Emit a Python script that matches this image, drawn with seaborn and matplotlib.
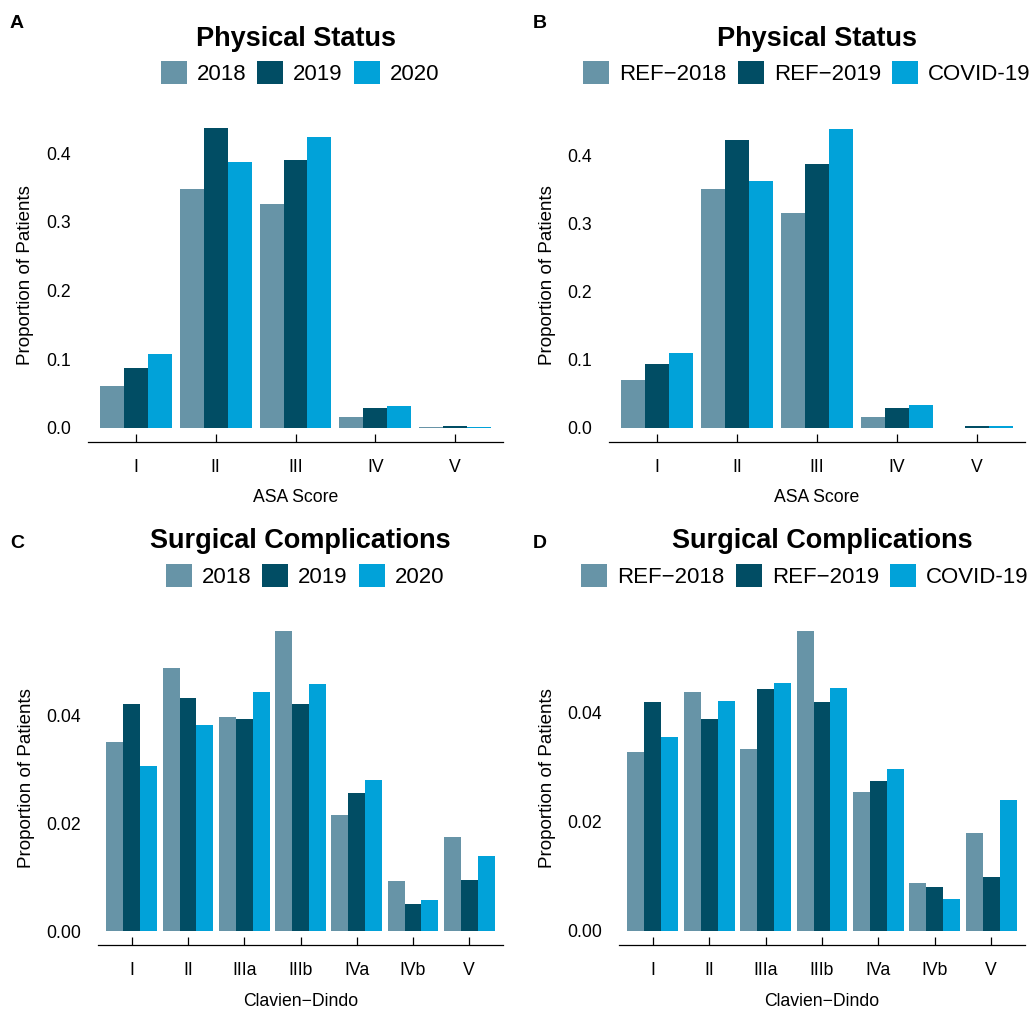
import numpy as np
import pandas as pd
import matplotlib
matplotlib.use("Agg")
import matplotlib.pyplot as plt
from matplotlib.ticker import FormatStrFormatter
import seaborn as sns

# categories and groups
asa_levels = ["I", "II", "III", "IV", "V"]
cd_levels = ["I", "II", "IIIa", "IIIb", "IVa", "IVb", "V"]
years = ["2018", "2019", "2020"]
periods = ["REF\u22122018", "REF\u22122019", "COVID-19"]
colors = ["#6794a7", "#014d64", "#01a2d9"]

# A: ASA score by calendar year
asa_year_2018 = [0.060, 0.348, 0.326, 0.016, 0.0005]
asa_year_2019 = [0.087, 0.437, 0.390, 0.029, 0.0025]
asa_year_2020 = [0.107, 0.387, 0.424, 0.032, 0.001]

# B: ASA score by reference period
asa_ref_2018 = [0.070, 0.351, 0.315, 0.016, 0.0]
asa_ref_2019 = [0.093, 0.423, 0.387, 0.029, 0.0025]
asa_covid = [0.110, 0.363, 0.439, 0.033, 0.0025]

# C: Clavien-Dindo by calendar year
cd_year_2018 = [0.0351, 0.0489, 0.0398, 0.0557, 0.0215, 0.0093, 0.0175]
cd_year_2019 = [0.0422, 0.0433, 0.0394, 0.0422, 0.0256, 0.0050, 0.0095]
cd_year_2020 = [0.0306, 0.0383, 0.0444, 0.0459, 0.0280, 0.0058, 0.0139]

# D: Clavien-Dindo by reference period
cd_ref_2018 = [0.0327, 0.0437, 0.0333, 0.0549, 0.0254, 0.0088, 0.0179]
cd_ref_2019 = [0.0419, 0.0388, 0.0443, 0.0419, 0.0274, 0.0080, 0.0099]
cd_covid = [0.0355, 0.0421, 0.0454, 0.0445, 0.0296, 0.0059, 0.0240]

sns.set_theme(style="white")
plt.rcParams["font.family"] = ["Liberation Sans", "DejaVu Sans"]
plt.rcParams["text.color"] = "black"
plt.rcParams["axes.labelcolor"] = "black"
plt.rcParams["xtick.color"] = "black"
plt.rcParams["ytick.color"] = "black"

W, H = 1030, 1011
fig = plt.figure(figsize=(W / 100, H / 100), dpi=100)


def long_df(levels, groups, series):
    rows = []
    for g, vals in zip(groups, series):
        for lev, v in zip(levels, vals):
            rows.append({"level": lev, "group": g, "value": v})
    return pd.DataFrame(rows)


panels = [
    dict(letter="A", box=(88, 108, 503, 442), levels=asa_levels, groups=years,
         series=[asa_year_2018, asa_year_2019, asa_year_2020],
         ylim=(-0.021, 0.466), yticks=[0, 0.1, 0.2, 0.3, 0.4], fmt="%.1f",
         title="Physical Status", xlabel="ASA Score", letter_xy=(10, 23),
         title_y=39, legend_xy=(300, 73), ylab_x=25, xlab_y=497),
    dict(letter="B", box=(609, 108, 1025, 442), levels=asa_levels, groups=periods,
         series=[asa_ref_2018, asa_ref_2019, asa_covid],
         ylim=(-0.021, 0.470), yticks=[0, 0.1, 0.2, 0.3, 0.4], fmt="%.1f",
         title="Physical Status", xlabel="ASA Score", letter_xy=(533, 23),
         title_y=39, legend_xy=(807, 73), ylab_x=548, xlab_y=497),
    dict(letter="C", box=(98, 612, 503, 945), levels=cd_levels, groups=years,
         series=[cd_year_2018, cd_year_2019, cd_year_2020],
         ylim=(-0.0026, 0.0593), yticks=[0, 0.02, 0.04], fmt="%.2f",
         title="Surgical Complications", xlabel="Clavien\u2212Dindo", letter_xy=(10, 543),
         title_y=541, legend_xy=(305, 576), ylab_x=26, xlab_y=1002),
    dict(letter="D", box=(619, 612, 1025, 945), levels=cd_levels, groups=periods,
         series=[cd_ref_2018, cd_ref_2019, cd_covid],
         ylim=(-0.00256, 0.0583), yticks=[0, 0.02, 0.04], fmt="%.2f",
         title="Surgical Complications", xlabel="Clavien\u2212Dindo", letter_xy=(533, 543),
         title_y=541, legend_xy=(805, 576), ylab_x=548, xlab_y=1002),
]

for p in panels:
    left, top, right, bottom = p["box"]
    ax = fig.add_axes([left / W, 1 - bottom / H, (right - left) / W, (bottom - top) / H])
    df = long_df(p["levels"], p["groups"], p["series"])
    sns.barplot(data=df, x="level", y="value", hue="group", order=p["levels"],
                hue_order=p["groups"], palette=colors, width=0.9, saturation=1,
                errorbar=None, linewidth=0, ax=ax)
    n = len(p["levels"])
    ax.set_xlim(-0.6, n - 0.4)
    ax.set_ylim(*p["ylim"])
    ax.set_yticks(p["yticks"])
    ax.yaxis.set_major_formatter(FormatStrFormatter(p["fmt"]))
    for s in ["left", "top", "right"]:
        ax.spines[s].set_visible(False)
    ax.spines["bottom"].set_color("black")
    ax.spines["bottom"].set_linewidth(0.9)
    ax.tick_params(axis="x", direction="in", length=5.8, width=0.9, pad=12,
                   labelsize=12.7, colors="black", bottom=True)
    ax.tick_params(axis="y", length=0, pad=12, labelsize=12.7, colors="black")
    ax.grid(False)

    ax.set_ylabel("Proportion of Patients", fontsize=13.5, color="black")
    ax.set_xlabel(p["xlabel"], fontsize=12.7, color="black")
    ax.yaxis.set_label_coords((p["ylab_x"] - left) / (right - left), 0.5)
    ax.xaxis.set_label_coords(0.5, -(p["xlab_y"] - bottom) / (bottom - top))
    ax.xaxis.label.set_va("center")
    ax.yaxis.label.set_va("center")

    leg = ax.get_legend()
    handles = leg.legend_handles
    labels = [t.get_text() for t in leg.get_texts()]
    leg.remove()
    new_leg = ax.legend(handles, labels, loc="center", ncol=3, frameon=False,
                        bbox_to_anchor=(p["legend_xy"][0] / W, 1 - p["legend_xy"][1] / H),
                        bbox_transform=fig.transFigure, fontsize=16,
                        handlelength=1.17, handleheight=1.17, handletextpad=0.45,
                        columnspacing=0.5, borderpad=0, borderaxespad=0)
    for t in new_leg.get_texts():
        t.set_color("black")

    fig.text((left + right) / 2 / W, 1 - p["title_y"] / H, p["title"],
             ha="center", va="center", fontsize=19.5, fontweight="bold", color="black")
    fig.text(p["letter_xy"][0] / W, 1 - p["letter_xy"][1] / H, p["letter"],
             ha="left", va="center", fontsize=14, fontweight="bold", color="black")

fig.savefig("out.png", dpi=100, facecolor="white")
